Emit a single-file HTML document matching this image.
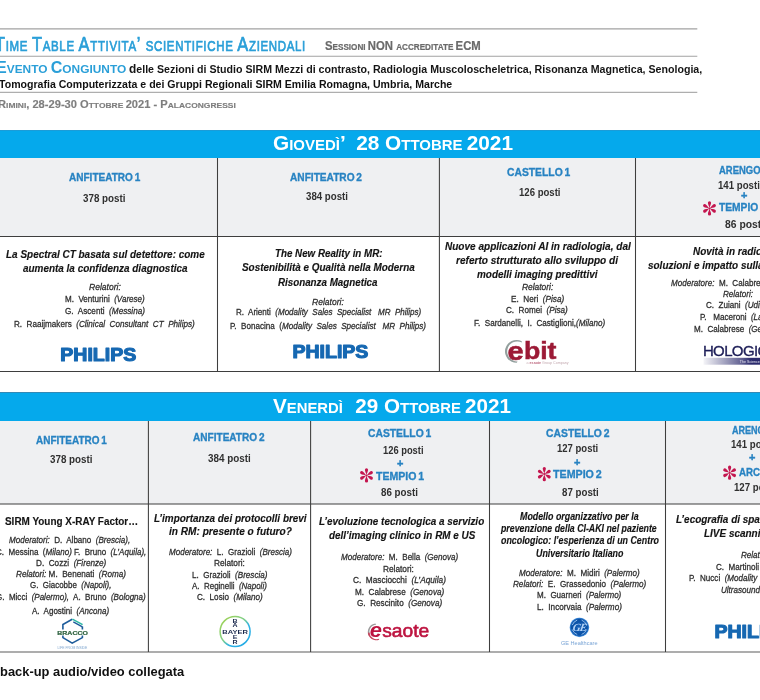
<!DOCTYPE html>
<html lang="it">
<head>
<meta charset="utf-8">
<title>Time Table Attività scientifiche Aziendali</title>
<style>
html,body{margin:0;padding:0;background:#fff;}
body{width:760px;height:700px;overflow:hidden;position:relative;font-family:"Liberation Sans",Arial,sans-serif;}
#pg{position:absolute;left:0;top:0;width:760px;height:700px;overflow:hidden;}
.t{position:absolute;white-space:pre;transform-origin:0 0;}
.bar{position:absolute;left:0;width:760px;background:#05a9ec;}
.hd{position:absolute;left:0;width:760px;background:#eff0f2;}
svg{position:absolute;overflow:visible;}
</style>
</head>
<body>
<div id="pg">
<div class="bar" style="top:130px;height:28px;box-shadow:inset 0 1px 0 #1b9cd8"></div>
<div class="hd" style="top:158px;height:78px"></div>
<div class="bar" style="top:392px;height:29px;box-shadow:inset 0 1px 0 #3289b6"></div>
<div class="hd" style="top:421px;height:83px"></div>
<svg width="760" height="700" viewBox="0 0 760 700" style="left:0;top:0">
<g stroke="#a2a2a2" stroke-width="1.1">
<path d="M0,28.9H697.3M0,56.3H697.3"/><path d="M0,92.3H697.3" stroke="#9a9a9a" stroke-width="1"/>
</g>
<g stroke="#3e3e3e" stroke-width="1.05" fill="none">
<path d="M0,236.5H760M0,371.5H760M0,504.05H760"/>
<path d="M0,652H760" stroke="#5c5c5c" stroke-width="1.2"/>
<path d="M217.5,158V371.5M439.4,158V371.5M635.5,158V371.5"/>
<path d="M148.4,421V652M310.6,421V652M489.5,421V652M665.5,421V652"/>
</g>
</svg>

<div class="t" id="l0" style="left:-5.20px;top:28px;font-size:20.8px;line-height:31px;color:#2a9fd8;-webkit-text-stroke:0.7px #2a9fd8;letter-spacing:0.838px;transform:scaleX(0.7900);">T<span style="font-size:70%">IME </span>T<span style="font-size:70%">ABLE </span>A<span style="font-size:70%">TTIVITA</span>’ <span style="font-size:70%">SCIENTIFICHE </span>A<span style="font-size:70%">ZIENDALI</span></div>
<div class="t" id="l1" style="left:325.00px;top:31px;font-size:12px;line-height:30px;color:#6a6a6a;-webkit-text-stroke:0.2px #6a6a6a;transform:scaleX(0.9439);"><b>S</b><b><span style="font-size:72%">ESSIONI </span></b><b>NON </b><b><span style="font-size:72%">ACCREDITATE </span></b><b>ECM</b></div>
<div class="t" id="l2" style="left:-3.80px;top:52px;font-size:16px;line-height:31px;color:#2a9fd8;transform:scaleX(1.0047);"><b>E</b><b><span style="font-size:74%">VENTO </span></b><b>C</b><b><span style="font-size:74%">ONGIUNTO</span></b></div>
<div class="t" id="l3" style="left:129.40px;top:54px;font-size:11px;line-height:30px;color:#151515;transform:scaleX(0.9655);"><b><span style="font-size:112%">d</span></b><b>elle Sezioni di Studio SIRM Mezzi di contrasto, Radiologia Muscoloscheletrica, Risonanza Magnetica, Senologia,</b></div>
<div class="t" id="l4" style="left:-1.20px;top:69px;font-size:11px;line-height:30px;color:#111;transform:scaleX(0.9609);"><b>Tomografia Computerizzata e dei Gruppi Regionali SIRM Emilia Romagna, Umbria, Marche</b></div>
<div class="t" id="l5" style="left:-1.80px;top:89px;font-size:10.6px;line-height:30px;color:#7e7e7e;-webkit-text-stroke:0.15px #7e7e7e;transform:scaleX(1.0502);"><b>R</b><b><span style="font-size:76%">IMINI</span></b><b>, 28-29-30 O</b><b><span style="font-size:76%">TTOBRE </span></b><b>2021 - P</b><b><span style="font-size:76%">ALACONGRESSI</span></b></div>
<div class="t" id="l6" style="left:272.60px;top:128px;font-size:20px;line-height:30px;color:#fff;transform:scaleX(1.0404);"><b>G</b><b><span style="font-size:72%">IOVEDÌ</span></b><b>’  28 O</b><b><span style="font-size:72%">TTOBRE </span></b><b>2021</b></div>
<div class="t" id="l7" style="left:273.00px;top:391px;font-size:20px;line-height:30px;color:#fff;transform:scaleX(1.0326);"><b>V</b><b><span style="font-size:72%">ENERDÌ   </span></b><b>29 O</b><b><span style="font-size:72%">TTOBRE </span></b><b>2021</b></div>
<div class="t" id="l8" style="left:68.75px;top:162px;font-size:10px;line-height:31px;color:#2883c2;word-spacing:-1px;-webkit-text-stroke:0.3px #2883c2;transform:scaleX(1.0029);"><b>ANFITEATRO 1</b></div>
<div class="t" id="l9" style="left:82.50px;top:183px;font-size:10.8px;line-height:30px;color:#303030;transform:scaleX(0.9079);"><b>378 posti</b></div>
<div class="t" id="l10" style="left:290.00px;top:162px;font-size:10px;line-height:31px;color:#2883c2;word-spacing:-1px;-webkit-text-stroke:0.3px #2883c2;transform:scaleX(1.0134);"><b>ANFITEATRO 2</b></div>
<div class="t" id="l11" style="left:305.50px;top:181px;font-size:10.8px;line-height:30px;color:#303030;transform:scaleX(0.8972);"><b>384 posti</b></div>
<div class="t" id="l12" style="left:506.75px;top:157px;font-size:10px;line-height:31px;color:#2883c2;word-spacing:-1px;-webkit-text-stroke:0.3px #2883c2;transform:scaleX(1.0329);"><b>CASTELLO 1</b></div>
<div class="t" id="l13" style="left:518.50px;top:177px;font-size:10.8px;line-height:30px;color:#303030;transform:scaleX(0.8865);"><b>126 posti</b></div>
<div class="t" id="l14" style="left:718.50px;top:155px;font-size:10px;line-height:31px;color:#2883c2;word-spacing:-1px;-webkit-text-stroke:0.3px #2883c2;transform:scaleX(0.9460);"><b>ARENGO 1</b></div>
<div class="t" id="l15" style="left:718.00px;top:170px;font-size:10.8px;line-height:30px;color:#303030;transform:scaleX(0.8946);"><b>141 posti</b></div>
<div class="t" id="l16" style="left:740.80px;top:180px;font-size:10.5px;line-height:30px;color:#2883c2;-webkit-text-stroke:0.4px #2883c2;transform:scaleX(1.0422);"><b>+</b></div>
<div class="t" id="l17" style="left:718.50px;top:192px;font-size:10px;line-height:31px;color:#2883c2;word-spacing:-1px;-webkit-text-stroke:0.3px #2883c2;transform:scaleX(1.0230);"><b>TEMPIO 2</b></div>
<div class="t" id="l18" style="left:724.70px;top:209px;font-size:10.8px;line-height:30px;color:#303030;transform:scaleX(0.9585);"><b>86 posti</b></div>
<div class="t" id="l19" style="left:6.25px;top:239px;font-size:11px;line-height:30px;color:#141414;-webkit-text-stroke:0.15px #141414;transform:scaleX(0.9057);"><b><i>La Spectral CT basata sul detettore: come</i></b></div>
<div class="t" id="l20" style="left:22.50px;top:253px;font-size:11px;line-height:30px;color:#141414;-webkit-text-stroke:0.15px #141414;transform:scaleX(0.9031);"><b><i>aumenta la confidenza diagnostica</i></b></div>
<div class="t" id="l21" style="left:88.75px;top:271px;font-size:9.7px;line-height:31px;color:#2e2e2e;-webkit-text-stroke:0.3px #2e2e2e;transform:scaleX(0.8800);"><i>Relatori:</i></div>
<div class="t" id="l22" style="left:64.50px;top:283px;font-size:9.7px;line-height:31px;color:#2e2e2e;-webkit-text-stroke:0.3px #2e2e2e;transform:scaleX(0.8305);">M.  Venturini  <i>(Varese)</i></div>
<div class="t" id="l23" style="left:64.50px;top:295px;font-size:9.7px;line-height:31px;color:#2e2e2e;-webkit-text-stroke:0.3px #2e2e2e;transform:scaleX(0.8442);">G.  Ascenti  <i>(Messina)</i></div>
<div class="t" id="l24" style="left:13.75px;top:308px;font-size:9.7px;line-height:31px;color:#2e2e2e;-webkit-text-stroke:0.3px #2e2e2e;transform:scaleX(0.8372);">R.  Raaijmakers  <i>(Clinical  Consultant  CT  Philips)</i></div>
<div class="t" id="l25" style="left:275.00px;top:238px;font-size:11px;line-height:30px;color:#141414;-webkit-text-stroke:0.15px #141414;transform:scaleX(0.8882);"><b><i>The New Reality in MR:</i></b></div>
<div class="t" id="l26" style="left:241.75px;top:252px;font-size:11px;line-height:30px;color:#141414;-webkit-text-stroke:0.15px #141414;transform:scaleX(0.9000);"><b><i>Sostenibilità e Qualità nella Moderna</i></b></div>
<div class="t" id="l27" style="left:278.00px;top:267px;font-size:11px;line-height:30px;color:#141414;-webkit-text-stroke:0.15px #141414;transform:scaleX(0.8895);"><b><i>Risonanza Magnetica</i></b></div>
<div class="t" id="l28" style="left:312.00px;top:286px;font-size:9.7px;line-height:31px;color:#2e2e2e;-webkit-text-stroke:0.3px #2e2e2e;transform:scaleX(0.8800);"><i>Relatori:</i></div>
<div class="t" id="l29" style="left:235.50px;top:296px;font-size:9.7px;line-height:31px;color:#2e2e2e;-webkit-text-stroke:0.3px #2e2e2e;transform:scaleX(0.8291);">R.  Arienti  <i>(Modality  Sales  Specialist   MR  Philips)</i></div>
<div class="t" id="l30" style="left:230.00px;top:310px;font-size:9.7px;line-height:31px;color:#2e2e2e;-webkit-text-stroke:0.3px #2e2e2e;transform:scaleX(0.8336);">P.  Bonacina  (<i>Modality  Sales  Specialist   MR  Philips)</i></div>
<div class="t" id="l31" style="left:445.00px;top:231px;font-size:11px;line-height:30px;color:#141414;-webkit-text-stroke:0.15px #141414;transform:scaleX(0.9117);"><b><i>Nuove applicazioni AI in radiologia, dal</i></b></div>
<div class="t" id="l32" style="left:456.25px;top:245px;font-size:11px;line-height:30px;color:#141414;-webkit-text-stroke:0.15px #141414;transform:scaleX(0.9172);"><b><i>referto strutturato allo sviluppo di</i></b></div>
<div class="t" id="l33" style="left:477.00px;top:259px;font-size:11px;line-height:30px;color:#141414;-webkit-text-stroke:0.15px #141414;transform:scaleX(0.9043);"><b><i>modelli imaging predittivi</i></b></div>
<div class="t" id="l34" style="left:521.75px;top:271px;font-size:9.7px;line-height:31px;color:#2e2e2e;-webkit-text-stroke:0.3px #2e2e2e;transform:scaleX(0.8662);"><i>Relatori:</i></div>
<div class="t" id="l35" style="left:510.50px;top:283px;font-size:9.7px;line-height:31px;color:#2e2e2e;-webkit-text-stroke:0.3px #2e2e2e;transform:scaleX(0.8452);">E.  Neri  <i>(Pisa)</i></div>
<div class="t" id="l36" style="left:506.25px;top:294px;font-size:9.7px;line-height:31px;color:#2e2e2e;-webkit-text-stroke:0.3px #2e2e2e;transform:scaleX(0.8371);">C.  Romei  <i>(Pisa)</i></div>
<div class="t" id="l37" style="left:473.75px;top:307px;font-size:9.7px;line-height:31px;color:#2e2e2e;-webkit-text-stroke:0.3px #2e2e2e;transform:scaleX(0.8347);">F.  Sardanelli,  I.  Castiglioni,<i>(Milano)</i></div>
<div class="t" id="l38" style="left:693.00px;top:236px;font-size:11px;line-height:30px;color:#141414;-webkit-text-stroke:0.15px #141414;transform:scaleX(0.9050);"><b><i>Novità in radiologia senologica:</i></b></div>
<div class="t" id="l39" style="left:648.00px;top:250px;font-size:11px;line-height:30px;color:#141414;-webkit-text-stroke:0.15px #141414;transform:scaleX(0.9050);"><b><i>soluzioni e impatto sulla pratica clinica</i></b></div>
<div class="t" id="l40" style="left:670.50px;top:267px;font-size:9.7px;line-height:31px;color:#2e2e2e;-webkit-text-stroke:0.3px #2e2e2e;transform:scaleX(0.8316);"><i>Moderatore:</i>  M.  Calabrese  <i>(Genova)</i></div>
<div class="t" id="l41" style="left:723.00px;top:278px;font-size:9.7px;line-height:31px;color:#2e2e2e;-webkit-text-stroke:0.3px #2e2e2e;transform:scaleX(0.8316);"><i>Relatori:</i></div>
<div class="t" id="l42" style="left:705.75px;top:289px;font-size:9.7px;line-height:31px;color:#2e2e2e;-webkit-text-stroke:0.3px #2e2e2e;transform:scaleX(0.8316);">C.  Zuiani  <i>(Udine)</i></div>
<div class="t" id="l43" style="left:699.50px;top:301px;font-size:9.7px;line-height:31px;color:#2e2e2e;-webkit-text-stroke:0.3px #2e2e2e;transform:scaleX(0.8316);">P.   Maceroni  <i>(Latina)</i></div>
<div class="t" id="l44" style="left:694.25px;top:313px;font-size:9.7px;line-height:31px;color:#2e2e2e;-webkit-text-stroke:0.3px #2e2e2e;transform:scaleX(0.8316);">M.  Calabrese  <i>(Genova)</i></div>
<div class="t" id="l45" style="left:35.50px;top:425px;font-size:10px;line-height:31px;color:#2883c2;word-spacing:-1px;-webkit-text-stroke:0.3px #2883c2;transform:scaleX(0.9958);"><b>ANFITEATRO 1</b></div>
<div class="t" id="l46" style="left:49.50px;top:444px;font-size:10.8px;line-height:30px;color:#303030;transform:scaleX(0.9079);"><b>378 posti</b></div>
<div class="t" id="l47" style="left:193.00px;top:422px;font-size:10px;line-height:31px;color:#2883c2;word-spacing:-1px;-webkit-text-stroke:0.3px #2883c2;transform:scaleX(1.0064);"><b>ANFITEATRO 2</b></div>
<div class="t" id="l48" style="left:208.00px;top:443px;font-size:10.8px;line-height:30px;color:#303030;transform:scaleX(0.9132);"><b>384 posti</b></div>
<div class="t" id="l49" style="left:368.00px;top:418px;font-size:10px;line-height:31px;color:#2883c2;word-spacing:-1px;-webkit-text-stroke:0.3px #2883c2;transform:scaleX(1.0329);"><b>CASTELLO 1</b></div>
<div class="t" id="l50" style="left:382.50px;top:435px;font-size:10.8px;line-height:30px;color:#303030;transform:scaleX(0.8652);"><b>126 posti</b></div>
<div class="t" id="l51" style="left:396.80px;top:448px;font-size:10.5px;line-height:30px;color:#2883c2;-webkit-text-stroke:0.4px #2883c2;transform:scaleX(1.0422);"><b>+</b></div>
<div class="t" id="l52" style="left:375.50px;top:461px;font-size:10px;line-height:31px;color:#2883c2;word-spacing:-1px;-webkit-text-stroke:0.3px #2883c2;transform:scaleX(1.0561);"><b>TEMPIO 1</b></div>
<div class="t" id="l53" style="left:381.00px;top:477px;font-size:10.8px;line-height:30px;color:#303030;transform:scaleX(0.9066);"><b>86 posti</b></div>
<div class="t" id="l54" style="left:545.75px;top:418px;font-size:10px;line-height:31px;color:#2883c2;word-spacing:-1px;-webkit-text-stroke:0.3px #2883c2;transform:scaleX(1.0370);"><b>CASTELLO 2</b></div>
<div class="t" id="l55" style="left:557.00px;top:433px;font-size:10.8px;line-height:30px;color:#303030;transform:scaleX(0.8812);"><b>127 posti</b></div>
<div class="t" id="l56" style="left:574.30px;top:447px;font-size:10.5px;line-height:30px;color:#2883c2;-webkit-text-stroke:0.4px #2883c2;transform:scaleX(1.0422);"><b>+</b></div>
<div class="t" id="l57" style="left:553.25px;top:459px;font-size:10px;line-height:31px;color:#2883c2;word-spacing:-1px;-webkit-text-stroke:0.3px #2883c2;transform:scaleX(1.0670);"><b>TEMPIO 2</b></div>
<div class="t" id="l58" style="left:562.00px;top:477px;font-size:10.8px;line-height:30px;color:#303030;transform:scaleX(0.9005);"><b>87 posti</b></div>
<div class="t" id="l59" style="left:731.60px;top:415px;font-size:10px;line-height:31px;color:#2883c2;word-spacing:-1px;-webkit-text-stroke:0.3px #2883c2;transform:scaleX(0.9020);"><b>ARENGO 2</b></div>
<div class="t" id="l60" style="left:730.75px;top:429px;font-size:10.8px;line-height:30px;color:#303030;transform:scaleX(0.8946);"><b>141 posti</b></div>
<div class="t" id="l61" style="left:748.55px;top:442px;font-size:10.5px;line-height:30px;color:#2883c2;-webkit-text-stroke:0.4px #2883c2;transform:scaleX(1.0422);"><b>+</b></div>
<div class="t" id="l62" style="left:738.50px;top:457px;font-size:10px;line-height:31px;color:#2883c2;word-spacing:-1px;-webkit-text-stroke:0.3px #2883c2;transform:scaleX(0.9735);"><b>ARCO 1</b></div>
<div class="t" id="l63" style="left:733.75px;top:472px;font-size:10.8px;line-height:30px;color:#303030;transform:scaleX(0.8946);"><b>127 posti</b></div>
<div class="t" id="l64" style="left:4.90px;top:506px;font-size:11.8px;line-height:30px;color:#141414;-webkit-text-stroke:0.15px #141414;transform:scaleX(0.8414);"><b>SIRM Young X-RAY Factor…</b></div>
<div class="t" id="l65" style="left:9.40px;top:524px;font-size:9.7px;line-height:31px;color:#2e2e2e;-webkit-text-stroke:0.3px #2e2e2e;transform:scaleX(0.8306);"><i>Moderatori:</i>  D.  Albano  <i>(Brescia),</i></div>
<div class="t" id="l66" style="left:-4.00px;top:536px;font-size:9.7px;line-height:31px;color:#2e2e2e;-webkit-text-stroke:0.3px #2e2e2e;transform:scaleX(0.8283);">C.  Messina  (<i>Milano)</i> F.  Bruno  <i>(L’Aquila),</i></div>
<div class="t" id="l67" style="left:36.30px;top:547px;font-size:9.7px;line-height:31px;color:#2e2e2e;-webkit-text-stroke:0.3px #2e2e2e;transform:scaleX(0.8424);">D.  Cozzi  <i>(Firenze)</i></div>
<div class="t" id="l68" style="left:16.30px;top:558px;font-size:9.7px;line-height:31px;color:#2e2e2e;-webkit-text-stroke:0.3px #2e2e2e;transform:scaleX(0.8407);"><i>Relatori:</i> M.  Benenati  <i>(Roma)</i></div>
<div class="t" id="l69" style="left:30.00px;top:569px;font-size:9.7px;line-height:31px;color:#2e2e2e;-webkit-text-stroke:0.3px #2e2e2e;transform:scaleX(0.8216);">G.  Giacobbe  <i>(Napoli),</i></div>
<div class="t" id="l70" style="left:-4.00px;top:581px;font-size:9.7px;line-height:31px;color:#2e2e2e;-webkit-text-stroke:0.3px #2e2e2e;transform:scaleX(0.8274);">G.  Micci  <i>(Palermo),</i>  A.  Bruno  <i>(Bologna)</i></div>
<div class="t" id="l71" style="left:32.30px;top:595px;font-size:9.7px;line-height:31px;color:#2e2e2e;-webkit-text-stroke:0.3px #2e2e2e;transform:scaleX(0.8275);">A.  Agostini  <i>(Ancona)</i></div>
<div class="t" id="l72" style="left:154.00px;top:503px;font-size:11px;line-height:30px;color:#141414;-webkit-text-stroke:0.15px #141414;transform:scaleX(0.9025);"><b><i>L’importanza dei protocolli brevi</i></b></div>
<div class="t" id="l73" style="left:168.50px;top:516px;font-size:11px;line-height:30px;color:#141414;-webkit-text-stroke:0.15px #141414;transform:scaleX(0.9183);"><b><i>in RM: presente o futuro?</i></b></div>
<div class="t" id="l74" style="left:168.50px;top:536px;font-size:9.7px;line-height:31px;color:#2e2e2e;-webkit-text-stroke:0.3px #2e2e2e;transform:scaleX(0.8300);"><i>Moderatore:</i>  L.  Grazioli  <i>(Brescia)</i></div>
<div class="t" id="l75" style="left:214.30px;top:547px;font-size:9.7px;line-height:31px;color:#2e2e2e;-webkit-text-stroke:0.3px #2e2e2e;transform:scaleX(0.8537);">Relatori:</div>
<div class="t" id="l76" style="left:192.30px;top:559px;font-size:9.7px;line-height:31px;color:#2e2e2e;-webkit-text-stroke:0.3px #2e2e2e;transform:scaleX(0.8336);">L.  Grazioli  <i>(Brescia)</i></div>
<div class="t" id="l77" style="left:192.30px;top:570px;font-size:9.7px;line-height:31px;color:#2e2e2e;-webkit-text-stroke:0.3px #2e2e2e;transform:scaleX(0.8220);">A.  Reginelli  <i>(Napoli)</i></div>
<div class="t" id="l78" style="left:197.10px;top:581px;font-size:9.7px;line-height:31px;color:#2e2e2e;-webkit-text-stroke:0.3px #2e2e2e;transform:scaleX(0.8369);">C.  Losio  <i>(Milano)</i></div>
<div class="t" id="l79" style="left:319.10px;top:506px;font-size:11px;line-height:30px;color:#141414;-webkit-text-stroke:0.15px #141414;transform:scaleX(0.9018);"><b><i>L’evoluzione tecnologica a servizio</i></b></div>
<div class="t" id="l80" style="left:328.60px;top:520px;font-size:11px;line-height:30px;color:#141414;-webkit-text-stroke:0.15px #141414;transform:scaleX(0.8999);"><b><i>dell’imaging clinico in RM e US</i></b></div>
<div class="t" id="l81" style="left:341.40px;top:541px;font-size:9.7px;line-height:31px;color:#2e2e2e;-webkit-text-stroke:0.3px #2e2e2e;transform:scaleX(0.8307);"><i>Moderatore:</i>  M.  Bella  <i>(Genova)</i></div>
<div class="t" id="l82" style="left:383.40px;top:553px;font-size:9.7px;line-height:31px;color:#2e2e2e;-webkit-text-stroke:0.3px #2e2e2e;transform:scaleX(0.8565);">Relatori:</div>
<div class="t" id="l83" style="left:353.40px;top:564px;font-size:9.7px;line-height:31px;color:#2e2e2e;-webkit-text-stroke:0.3px #2e2e2e;transform:scaleX(0.8541);">C.  Masciocchi  <i>(L’Aquila)</i></div>
<div class="t" id="l84" style="left:355.10px;top:576px;font-size:9.7px;line-height:31px;color:#2e2e2e;-webkit-text-stroke:0.3px #2e2e2e;transform:scaleX(0.8409);">M.  Calabrese  <i>(Genova)</i></div>
<div class="t" id="l85" style="left:357.10px;top:587px;font-size:9.7px;line-height:31px;color:#2e2e2e;-webkit-text-stroke:0.3px #2e2e2e;transform:scaleX(0.8416);">G.  Rescinito  <i>(Genova)</i></div>
<div class="t" id="l86" style="left:520.00px;top:501px;font-size:10px;line-height:31px;color:#141414;-webkit-text-stroke:0.15px #141414;transform:scaleX(0.8857);"><b><i>Modello organizzativo per la</i></b></div>
<div class="t" id="l87" style="left:501.40px;top:513px;font-size:10px;line-height:31px;color:#141414;-webkit-text-stroke:0.15px #141414;transform:scaleX(0.8783);"><b><i>prevenzione della CI-AKI nel paziente</i></b></div>
<div class="t" id="l88" style="left:500.60px;top:525px;font-size:10px;line-height:31px;color:#141414;-webkit-text-stroke:0.15px #141414;transform:scaleX(0.8859);"><b><i>oncologico: l’esperienza di un Centro</i></b></div>
<div class="t" id="l89" style="left:536.30px;top:538px;font-size:10px;line-height:31px;color:#141414;-webkit-text-stroke:0.15px #141414;transform:scaleX(0.8835);"><b><i>Universitario Italiano</i></b></div>
<div class="t" id="l90" style="left:519.40px;top:557px;font-size:9.7px;line-height:31px;color:#2e2e2e;-webkit-text-stroke:0.3px #2e2e2e;transform:scaleX(0.8327);"><i>Moderatore:</i>  M.  Midiri  <i>(Palermo)</i></div>
<div class="t" id="l91" style="left:513.40px;top:568px;font-size:9.7px;line-height:31px;color:#2e2e2e;-webkit-text-stroke:0.3px #2e2e2e;transform:scaleX(0.8386);"><i>Relatori:</i>  E.  Grassedonio  <i>(Palermo)</i></div>
<div class="t" id="l92" style="left:537.10px;top:579px;font-size:9.7px;line-height:31px;color:#2e2e2e;-webkit-text-stroke:0.3px #2e2e2e;transform:scaleX(0.8285);">M.  Guarneri  <i>(Palermo)</i></div>
<div class="t" id="l93" style="left:537.10px;top:591px;font-size:9.7px;line-height:31px;color:#2e2e2e;-webkit-text-stroke:0.3px #2e2e2e;transform:scaleX(0.8432);">L.  Incorvaia  <i>(Palermo)</i></div>
<div class="t" id="l94" style="left:676.30px;top:504px;font-size:11px;line-height:30px;color:#141414;-webkit-text-stroke:0.15px #141414;transform:scaleX(0.9050);"><b><i>L’ecografia di spalla:</i></b></div>
<div class="t" id="l95" style="left:704.30px;top:518px;font-size:11px;line-height:30px;color:#141414;-webkit-text-stroke:0.15px #141414;transform:scaleX(0.9050);"><b><i>LIVE scanning</i></b></div>
<div class="t" id="l96" style="left:740.60px;top:539px;font-size:9.7px;line-height:31px;color:#2e2e2e;-webkit-text-stroke:0.3px #2e2e2e;transform:scaleX(0.8316);"><i>Relatori:</i></div>
<div class="t" id="l97" style="left:715.70px;top:551px;font-size:9.7px;line-height:31px;color:#2e2e2e;-webkit-text-stroke:0.3px #2e2e2e;transform:scaleX(0.8316);">C.  Martinoli  <i>(Genova)</i></div>
<div class="t" id="l98" style="left:689.10px;top:562px;font-size:9.7px;line-height:31px;color:#2e2e2e;-webkit-text-stroke:0.3px #2e2e2e;transform:scaleX(0.8316);">P.  Nucci  <i>(Modality  Sales  Specialist</i></div>
<div class="t" id="l99" style="left:720.60px;top:574px;font-size:9.7px;line-height:31px;color:#2e2e2e;-webkit-text-stroke:0.3px #2e2e2e;transform:scaleX(0.8316);"><i>Ultrasound  Philips)</i></div>
<div class="t" id="l100" style="left:-0.50px;top:657px;font-size:12.5px;line-height:30px;color:#111;transform:scaleX(1.0318);"><b>back-up audio/video collegata</b></div>
<svg width="760" height="700" viewBox="0 0 760 700" style="left:0;top:0" font-family="Liberation Sans, Arial, sans-serif">
<defs>
<linearGradient id="bay" x1="0" y1="0" x2="1" y2="1">
<stop offset="0" stop-color="#a6d34a"/><stop offset="0.45" stop-color="#7fcf8a"/><stop offset="0.62" stop-color="#2fb3e6"/><stop offset="1" stop-color="#1ea7e4"/>
</linearGradient>
<linearGradient id="hol" x1="0" y1="0" x2="1" y2="0">
<stop offset="0" stop-color="#2b2a6c" stop-opacity="0.05"/><stop offset="0.55" stop-color="#2b2a6c" stop-opacity="0.75"/><stop offset="0.68" stop-color="#2b2a6c" stop-opacity="1"/><stop offset="1" stop-color="#2b2a6c"/>
</linearGradient>
<radialGradient id="geg" cx="0.5" cy="0.5" r="0.5">
<stop offset="0" stop-color="#1560b8"/><stop offset="0.8" stop-color="#0a50a3"/><stop offset="0.92" stop-color="#2f7dd0"/><stop offset="1" stop-color="#9cc2ec"/>
</radialGradient>
<g id="ast" fill="#c4164f">
<path id="pet" d="M0,-0.4 C-0.45,-2 -1.6,-4.3 -1.6,-5.55 A1.6,1.6 0 0 1 1.6,-5.55 C1.6,-4.3 0.45,-2 0,-0.4Z"/>
<use href="#pet" transform="rotate(60)"/><use href="#pet" transform="rotate(120)"/><use href="#pet" transform="rotate(180)"/><use href="#pet" transform="rotate(240)"/><use href="#pet" transform="rotate(300)"/>
<circle r="1" />
</g>
<text id="phil" font-weight="700" font-size="17.5" fill="#1668b2" stroke="#1668b2" stroke-width="1.1" stroke-linejoin="round" textLength="76" lengthAdjust="spacingAndGlyphs">PHILIPS</text>
</defs>

<!-- asterisks -->
<use href="#ast" x="709.5" y="208.4"/>
<use href="#ast" x="366.5" y="475.4"/>
<use href="#ast" x="544.3" y="474.1"/>
<use href="#ast" x="729.6" y="472.7"/>

<!-- PHILIPS wordmarks -->
<use href="#phil" x="60.3" y="361.2"/>
<use href="#phil" x="292.4" y="357.6"/>
<use href="#phil" x="714.4" y="638.2"/>

<!-- ebit -->
<g id="ebit">
<path d="M521.75,341.33 A11.40,11.40 0 1 0 516.80,362.79 L517.55,361.39 A10.00,10.00 0 1 1 521.89,342.57 Z" fill="#93a09e"/>
<text x="507.6" y="359.5" font-weight="700" font-size="26.5" fill="#9c1a36" stroke="#9c1a36" stroke-width="0.5" textLength="16.2" lengthAdjust="spacingAndGlyphs">e</text>
<text x="523.9" y="359.1" font-weight="700" font-size="24.2" fill="#9c1a36" stroke="#9c1a36" stroke-width="0.5" textLength="32.6" lengthAdjust="spacingAndGlyphs">bit</text>
<text x="526.6" y="363.6" font-size="3.6" fill="#c4a9b0" textLength="42" lengthAdjust="spacingAndGlyphs">a <tspan font-weight="700" fill="#bf6a80">esaote</tspan> Group Company</text>
</g>

<!-- HOLOGIC -->
<g id="hologic">
<text x="702.9" y="355.6" font-size="15" fill="#1e1f58" stroke="#1e1f58" stroke-width="0.35" letter-spacing="-0.62">HOLOGIC</text>
<rect x="703.5" y="357.8" width="70" height="6.9" fill="url(#hol)"/>
<text x="739.8" y="363" font-size="3.6" fill="#e8e8f4">The Science of Sure</text>
</g>

<!-- Bracco -->
<g id="bracco" fill="none">
<path d="M72.2,619.3 L62.9,624.5 V629.4 M62.9,635.4 V637.6 L72.2,643.2 L82.4,637.6 V635.4 M82.4,629.4 V626.6" stroke="#1d5c9b" stroke-width="1.6" stroke-linejoin="miter"/>
<path d="M73.3,621.9 L82.4,626.9" stroke="#1d5c9b" stroke-width="1.5"/>
<path d="M72.4,619.2 L82.6,624.6" stroke="#2db7a3" stroke-width="1.5"/>
<text x="57.3" y="634.6" font-weight="700" font-size="5.8" fill="#2c613d" stroke="#2c613d" stroke-width="0.2" textLength="30.6" lengthAdjust="spacingAndGlyphs">BRACCO</text>
<text x="57.6" y="649.1" font-size="3.4" fill="#7fa6cf" textLength="29.6" lengthAdjust="spacing">LIFE FROM INSIDE</text>
</g>

<!-- Bayer -->
<g id="bayer">
<circle cx="235.1" cy="631.5" r="15" fill="#fff" stroke="url(#bay)" stroke-width="1.5"/>
<g font-weight="700" fill="#1b2a4e" text-anchor="middle">
<text x="235.1" y="633.6" font-size="5.7" textLength="25.6" lengthAdjust="spacingAndGlyphs">BAYER</text>
<g font-size="5.3" transform="translate(235.1 0) scale(1.32 1)">
<text x="0" y="623">B</text>
<text x="0" y="627.5">A</text>
<text x="0" y="639.1">E</text>
<text x="0" y="643.9">R</text>
</g>
</g>
</g>

<!-- esaote -->
<g id="esaote">
<path d="M375.47,623.53 A8.40,8.40 0 0 0 368.59,635.45 L370.08,634.99 A7.30,7.30 0 0 1 376.06,624.63 Z" fill="#9b9a9b"/>
<path d="M367.83,632.63 A8.40,8.40 0 0 0 379.07,639.79 L379.20,638.76 A7.30,7.30 0 0 1 369.43,632.54 Z" fill="#c8475f"/>
<text x="369.8" y="637.4" font-weight="700" font-style="italic" font-size="21" fill="#bd1440" textLength="12.2" lengthAdjust="spacingAndGlyphs">e</text>
<text x="382.2" y="636.6" font-size="18.2" fill="#bd1440" stroke="#bd1440" stroke-width="0.6" textLength="47" lengthAdjust="spacingAndGlyphs">saote</text>
</g>

<!-- GE Healthcare -->
<g id="ge">
<circle cx="579.4" cy="627.3" r="9.9" fill="url(#geg)"/>
<path d="M581.97,620.25A7.5,7.5 0 0 1 586.45,624.73M586.45,629.87A7.5,7.5 0 0 1 581.97,634.35M576.83,634.35A7.5,7.5 0 0 1 572.35,629.87M572.35,624.73A7.5,7.5 0 0 1 576.83,620.25" fill="none" stroke="#8fbdf0" stroke-width="1" stroke-linecap="round"/>
<text x="579.6" y="631.2" font-family="Liberation Serif, serif" font-style="italic" font-weight="700" font-size="11" fill="#b4d4f7" text-anchor="middle" letter-spacing="-1.1" transform="translate(579.4 627.3) skewX(-10) translate(-579.4 -627.3)">GE</text>
<text x="560.9" y="645.2" font-size="5.3" fill="#7aa5d6" textLength="36.6" lengthAdjust="spacingAndGlyphs">GE Healthcare</text>
</g>
</svg>

</div>
</body>
</html>
